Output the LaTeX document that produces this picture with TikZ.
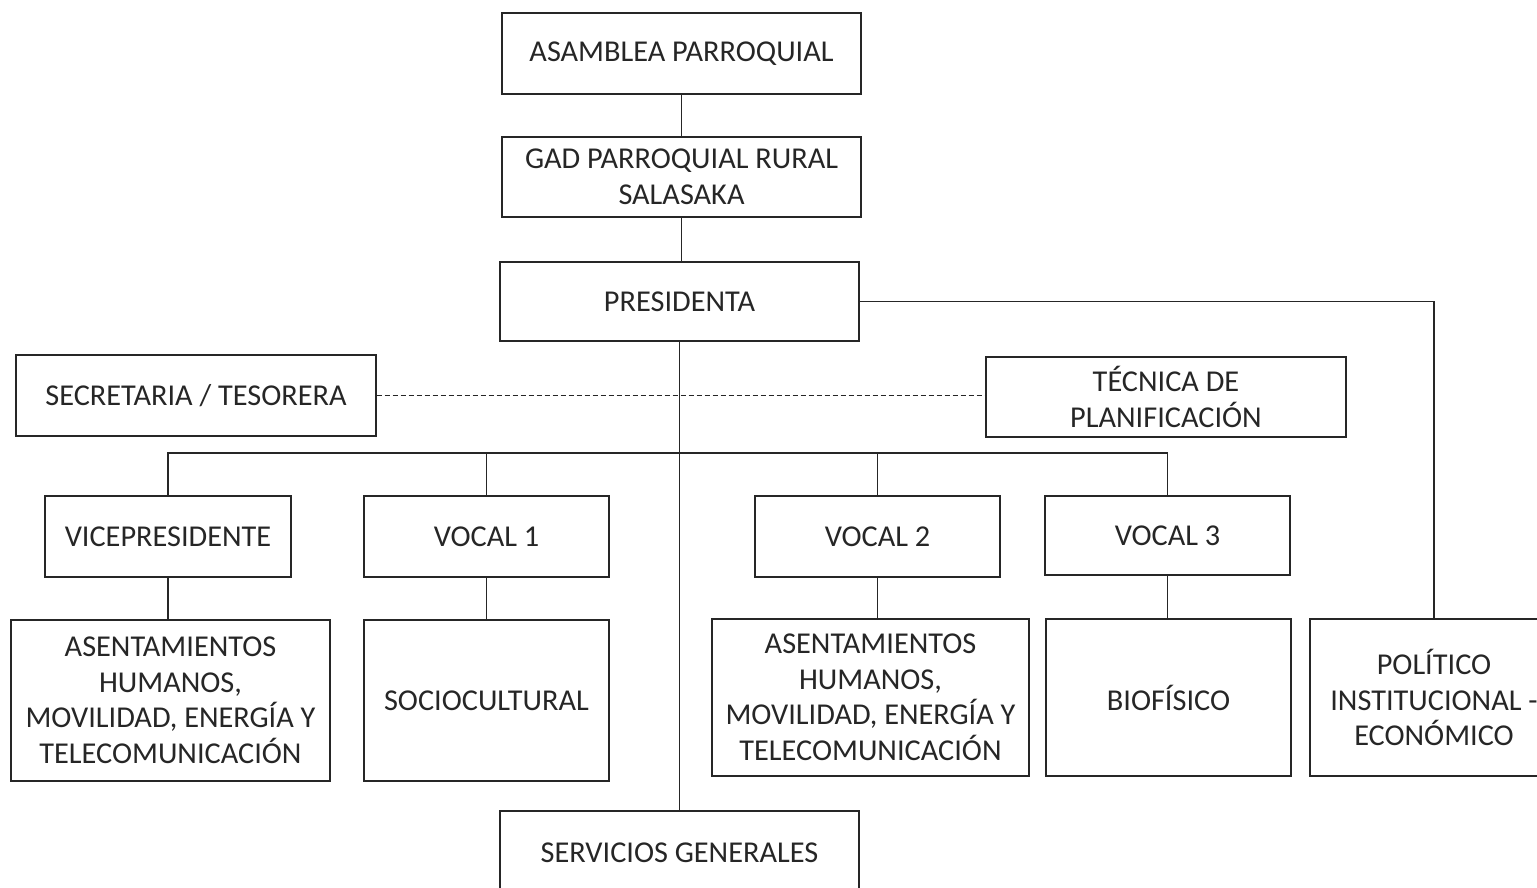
\documentclass[tikz,border=0pt]{standalone}
\usepackage{fontspec}
\setmainfont{Carlito}
\begin{document}
\begin{tikzpicture}[x=1pt,y=-1pt,
  box/.style={draw=black!85, line width=1.4pt, align=center, inner sep=0pt,
    font=\fontsize{30.3}{35.5}\selectfont, text=black!85},
  link/.style={draw=black!85, line width=1.4pt},
  dashlink/.style={draw=black!85, line width=1.2pt, dash pattern=on 5pt off 3pt}]
\useasboundingbox (0,0) rectangle (1537,887);
\clip (0,0) rectangle (1537,887);
\node[box, minimum width=359pt, minimum height=81pt] (asam) at (681.5,53.5) {ASAMBLEA PARROQUIAL};
\node[box, minimum width=359pt, minimum height=80pt] (gad) at (681.5,177) {GAD PARROQUIAL RURAL\\SALASAKA};
\node[box, minimum width=359pt, minimum height=79pt] (pres) at (679.5,301.5) {PRESIDENTA};
\node[box, minimum width=360pt, minimum height=81pt] (sec) at (196,395.5) {SECRETARIA / TESORERA};
\node[box, minimum width=360pt, minimum height=80pt] (tec) at (1166,397) {TÉCNICA DE\\PLANIFICACIÓN};
\node[box, minimum width=246pt, minimum height=81pt] (vice) at (168,536.5) {VICEPRESIDENTE};
\node[box, minimum width=245pt, minimum height=81pt] (v1) at (486.5,536.5) {VOCAL 1};
\node[box, minimum width=245pt, minimum height=81pt] (v2) at (877.5,536.5) {VOCAL 2};
\node[box, minimum width=245pt, minimum height=79pt] (v3) at (1167.5,535.5) {VOCAL 3};
\node[box, minimum width=319pt, minimum height=161pt] (a1) at (170.5,700.5) {ASENTAMIENTOS\\HUMANOS,\\MOVILIDAD, ENERGÍA Y\\TELECOMUNICACIÓN};
\node[box, minimum width=245pt, minimum height=161pt] (soc) at (486.5,700.5) {SOCIOCULTURAL};
\node[box, minimum width=317pt, minimum height=157pt] (a2) at (870.5,697.5) {ASENTAMIENTOS\\HUMANOS,\\MOVILIDAD, ENERGÍA Y\\TELECOMUNICACIÓN};
\node[box, minimum width=245pt, minimum height=157pt] (bio) at (1168.5,697.5) {BIOFÍSICO};
\node[box, minimum width=248pt, minimum height=157pt] (pol) at (1434,697.5) {POLÍTICO\\INSTITUCIONAL -\\ECONÓMICO};
\node[box, minimum width=359pt, minimum height=84pt] (serv) at (679.5,853) {SERVICIOS GENERALES};
\coordinate (bus) at (680,453);
\draw[link] (asam.south) -- (asam.south |- gad.north);
\draw[link] (gad.south) -- (gad.south |- pres.north);
\draw[link] (pres.south) -- (serv.north);
\draw[link] (pres.east) -| (pol.north);
\draw[dashlink] (sec.east) -- (sec.east -| tec.west);
\draw[link] (vice.north) |- (bus) -| (v3.north);
\draw[link] (v1.north) -- (v1.north |- bus);
\draw[link] (v2.north) -- (v2.north |- bus);
\draw[link] (vice.south) -- (vice.south |- a1.north);
\draw[link] (v1.south) -- (soc.north);
\draw[link] (v2.south) -- (v2.south |- a2.north);
\draw[link] (v3.south) -- (v3.south |- bio.north);
\end{tikzpicture}
\end{document}
